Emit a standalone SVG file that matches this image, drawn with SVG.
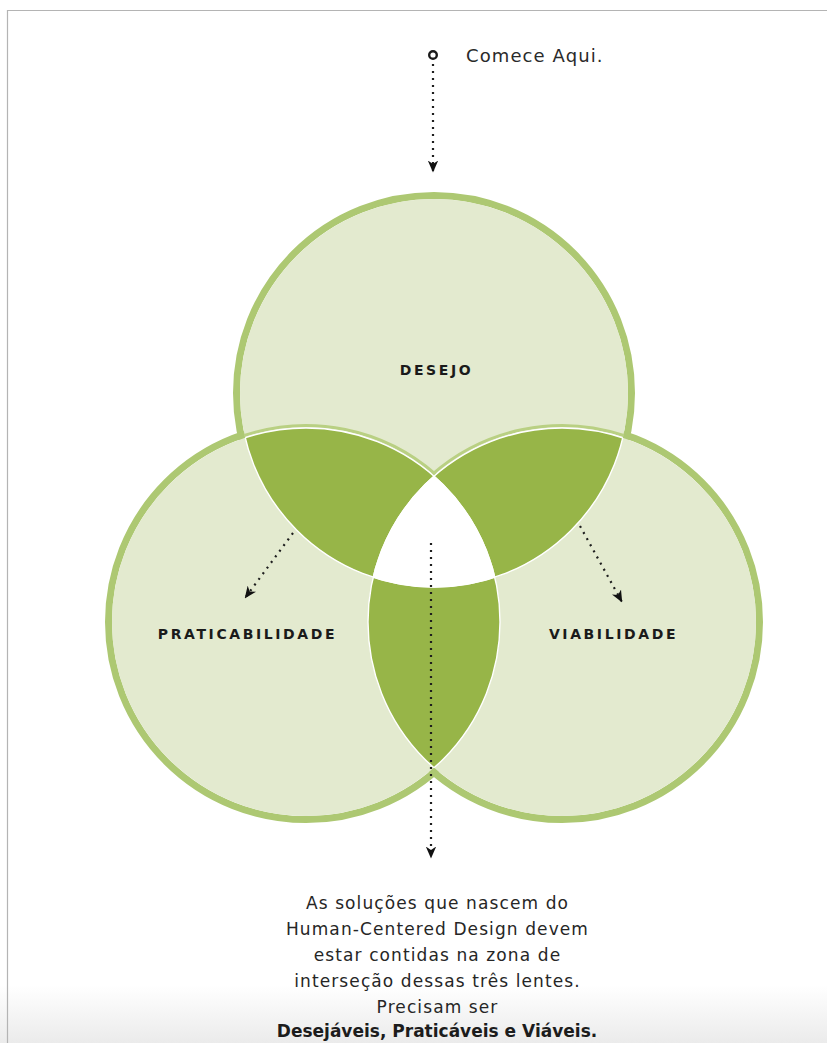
<svg xmlns="http://www.w3.org/2000/svg" width="827" height="1043" viewBox="0 0 827 1043">
  <style>
    .ring { fill: none; stroke: #adc872; stroke-width: 7; }
    .disc { fill: #e3eacf; }
    .lens { fill: #97b548; }
    .seam { fill: none; stroke: #ffffff; stroke-width: 1.4; }
    .band { fill: none; stroke: #b9d083; stroke-width: 3; }
    .label { font-family: "DejaVu Sans", Verdana, sans-serif; font-weight: bold; font-size: 14px; letter-spacing: 2.6px; fill: #1a1a1a; text-anchor: middle; }
    .body { font-family: "DejaVu Sans", Verdana, sans-serif; font-size: 17px; letter-spacing: 1.1px; fill: #262626; text-anchor: middle; }
    .strong { font-weight: bold; letter-spacing: 0; fill: #1c1c1c; }
    .dots { fill: none; stroke: #1e1e1e; stroke-width: 2.2; stroke-dasharray: 2 5; }
  </style>
  <defs>
    <clipPath id="inT"><circle cx="434" cy="393" r="194"/></clipPath>
    <clipPath id="inL"><circle cx="306" cy="622" r="194"/></clipPath>
    <clipPath id="inR"><circle cx="562" cy="622" r="194"/></clipPath>
    <marker id="head" viewBox="0 -6 12 12" refX="11.5" refY="0" markerWidth="12" markerHeight="12" markerUnits="userSpaceOnUse" orient="auto">
      <path d="M0,-5.2 L12,0 L0,5.2 L3.5,0 Z" fill="#111"/>
    </marker>
    <linearGradient id="fade" x1="0" y1="0" x2="0" y2="1">
      <stop offset="0" stop-color="#ffffff"/>
      <stop offset="1" stop-color="#ebebeb"/>
    </linearGradient>
  </defs>

  <!-- page -->
  <rect x="0" y="0" width="827" height="1043" fill="#ffffff"/>
  <rect x="0" y="985" width="827" height="58" fill="url(#fade)"/>
  <path d="M7.5,1043 V10.5 H827" fill="none" stroke="#b4b4b4" stroke-width="1.2"/>

  <!-- outer rings of the three lenses -->
  <g id="rings">
    <circle class="ring" cx="434" cy="393" r="197.5"/>
    <circle class="ring" cx="306" cy="622" r="197.5"/>
    <circle class="ring" cx="562" cy="622" r="197.5"/>
  </g>

  <g id="node-desejo">
    <circle class="disc" cx="434" cy="393" r="194"/>
    <text class="label" x="436.5" y="375">DESEJO</text>
  </g>
  <g id="node-praticabilidade">
    <circle class="disc" cx="306" cy="622" r="194"/>
  </g>
  <g id="node-viabilidade">
    <circle class="disc" cx="562" cy="622" r="194"/>
  </g>

  <!-- overlaps -->
  <g id="overlaps">
    <path class="band" d="M244.3,435.5 A196.5,196.5 0 0 1 435.7,474.4"/>
    <path class="band" d="M623.7,435.5 A196.5,196.5 0 0 0 432.3,474.4"/>
    <circle class="lens" cx="306" cy="622" r="194" clip-path="url(#inT)"/>
    <circle class="lens" cx="562" cy="622" r="194" clip-path="url(#inT)"/>
    <circle class="lens" cx="562" cy="622" r="194" clip-path="url(#inL)"/>
    <path id="center" d="M434,476.2 A194,194 0 0 1 494.8,577.2 A194,194 0 0 1 373.2,577.2 A194,194 0 0 1 434,476.2 Z" fill="#ffffff"/>
    <circle class="seam" cx="434" cy="393" r="194" clip-path="url(#inL)"/>
    <circle class="seam" cx="434" cy="393" r="194" clip-path="url(#inR)"/>
    <circle class="seam" cx="306" cy="622" r="194" clip-path="url(#inT)"/>
    <circle class="seam" cx="306" cy="622" r="194" clip-path="url(#inR)"/>
    <circle class="seam" cx="562" cy="622" r="194" clip-path="url(#inT)"/>
    <circle class="seam" cx="562" cy="622" r="194" clip-path="url(#inL)"/>
  </g>

  <g id="labels-bottom">
    <text class="label" x="247.5" y="639">PRATICABILIDADE</text>
    <text class="label" x="613.5" y="639">VIABILIDADE</text>
  </g>

  <!-- start point -->
  <g id="start">
    <circle cx="433" cy="55" r="3.8" fill="none" stroke="#1a1a1a" stroke-width="2.4"/>
    <text x="466" y="62" font-family="DejaVu Sans, Verdana, sans-serif" font-size="18" letter-spacing="1.1" fill="#2a2a2a">Comece Aqui.</text>
  </g>

  <g id="connectors">
    <line class="dots" x1="433" y1="64" x2="433" y2="172" marker-end="url(#head)"/>
    <line class="dots" x1="293" y1="533" x2="245" y2="598" marker-end="url(#head)"/>
    <line class="dots" x1="580" y1="526" x2="622" y2="602" marker-end="url(#head)"/>
    <line class="dots" x1="431" y1="543" x2="431" y2="858" marker-end="url(#head)"/>
  </g>

  <g id="caption">
    <text class="body" x="437.5" y="909">As soluções que nascem do</text>
    <text class="body" x="437.5" y="935">Human-Centered Design devem</text>
    <text class="body" x="437.5" y="961">estar contidas na zona de</text>
    <text class="body" x="437.5" y="987">interseção dessas três lentes.</text>
    <text class="body" x="437.5" y="1013">Precisam ser</text>
    <text class="body strong" x="437" y="1037">Desejáveis, Praticáveis e Viáveis.</text>
  </g>
</svg>
